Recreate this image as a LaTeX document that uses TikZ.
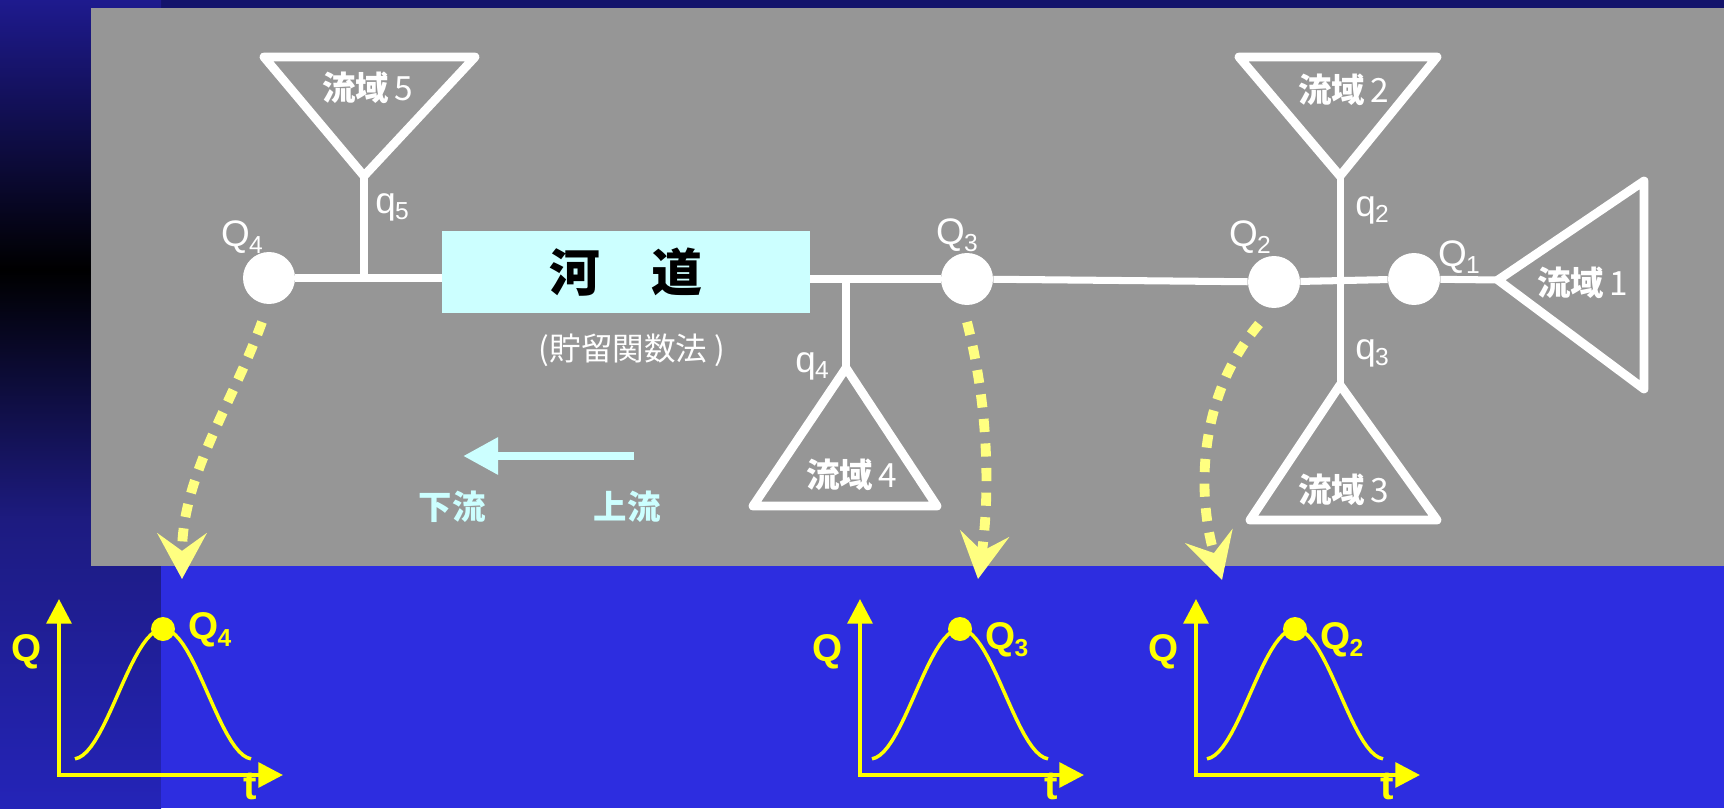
\documentclass[tikz,border=0pt]{standalone}
\usepackage{fontspec}
\setmainfont{Liberation Sans}
\newfontfamily\cjk{Noto Sans CJK JP}
\usetikzlibrary{arrows.meta}
\definecolor{topnavy}{HTML}{13136B}
\definecolor{colblue}{HTML}{1E1A8E}
\definecolor{colmid}{HTML}{1D1B80}
\definecolor{colblueb}{HTML}{2424B8}
\definecolor{panelgray}{HTML}{969696}
\definecolor{lowblue}{HTML}{2D2DE0}
\definecolor{boxcyan}{HTML}{CCFFFF}
\definecolor{paleyel}{HTML}{FFFF80}
\definecolor{chartyel}{HTML}{FFFF00}
\newcommand\subl[2]{#1\kern-0.02em\raisebox{-0.35ex}{\fontsize{14}{14}\selectfont #2}}
\newcommand\basinname[1]{{\bfseries 流域}\,#1}
\newcommand\hydro[5]{%
  \coordinate (#1o) at (#2,775);
  \coordinate (#1y) at (#2,599);
  \coordinate (#1x) at (#2+224,775);
  \draw[chaxis] (#1y) -- (#1o) -- (#1x);
  \draw[chcurve] plot[domain=-88:88, samples=45] ({#2+#3+\x},{759-65*(1+cos(2*\x))});
  \node[chdot] (#1p) at (#2+#3,629) {};
  \node[chlbl] (#1q) at (#2-32,652) {Q};
  \node[chlbl, font=\bfseries\fontsize{23}{23}\selectfont] (#1t) at (#2+191,786) {t};
  \node[chlbl, anchor=west] (#1n) at (#2+#3+25,#5) {\subl{Q}{#4}};
}
\begin{document}
\begin{tikzpicture}[x=0.02cm,y=-0.02cm,
  wline/.style={draw=white, line width=4pt},
  tri/.style={draw=white, line width=5pt, line join=round},
  dot/.style={circle, fill=white, minimum size=1.04cm, inner sep=0pt},
  lbl/.style={text=white, font=\fontsize{21}{21}\selectfont, inner sep=0pt},
  basin/.style={text=white, font=\cjk\fontsize{19}{19}\selectfont, inner sep=0pt},
  riverbox/.style={fill=boxcyan, minimum width=7.36cm, minimum height=1.64cm, inner sep=0pt,
     font=\cjk\bfseries\fontsize{29}{29}\selectfont},
  flowarrow/.style={draw=paleyel, line width=5.6pt, dash pattern=on 7.5pt off 6.5pt,
     -{Stealth[length=26pt, width=28pt, inset=10pt]}},
  dirarrow/.style={draw=boxcyan, line width=5pt, -{Triangle[length=20pt, width=20pt]}},
  dirlbl/.style={text=boxcyan, font=\cjk\bfseries\fontsize{19}{19}\selectfont, inner sep=0pt},
  chaxis/.style={draw=chartyel, line width=2.4pt, {Triangle[length=14pt,width=14pt]}-{Triangle[length=14pt,width=14pt]}},
  chcurve/.style={draw=chartyel, line width=2pt},
  chdot/.style={circle, fill=chartyel, minimum size=0.48cm, inner sep=0pt},
  chlbl/.style={text=chartyel, font=\bfseries\fontsize{22}{22}\selectfont, inner sep=0pt}
]
\useasboundingbox (0,0) rectangle (1724,808);
% background
\fill[topnavy] (0,0) rectangle (1724,808);
\shade[top color=colblue, bottom color=black] (0,0) rectangle (161,270);
\shade[top color=black, bottom color=colmid] (0,270) rectangle (161,520);
\shade[top color=colmid, bottom color=colblueb] (0,520) rectangle (161,808);
\fill[panelgray] (91,8) rectangle (1724,566);
\fill[lowblue] (161,566) rectangle (1724,808);

% junction / triangle coordinates
\coordinate (t5l) at (264,57); \coordinate (t5r) at (475,57); \coordinate (t5a) at (364,176);
\coordinate (t2l) at (1239,57); \coordinate (t2r) at (1437,57); \coordinate (t2a) at (1340,176);
\coordinate (t3a) at (1340,385); \coordinate (t3l) at (1250,520); \coordinate (t3r) at (1437,520);
\coordinate (t4a) at (846,368); \coordinate (t4l) at (753,506); \coordinate (t4r) at (937,506);
\coordinate (t1a) at (1498,280); \coordinate (t1t) at (1644,181); \coordinate (t1b) at (1644,389);
\coordinate (j5) at (364,277);
\coordinate (j4) at (846,278);

% river box and outlets
\node[riverbox] (river) at (626,272) {河\hspace{1em}道};
\node[dot] (Q4) at (269,278) {};
\node[dot] (Q3) at (967,279) {};
\node[dot] (Q2) at (1274,282) {};
\node[dot] (Q1) at (1414,279) {};

% channel lines
\draw[wline] (Q4) -- (Q4 -| river.west);
\draw[wline] (j5) -- (t5a);
\draw[wline] (Q3) -- (Q3 -| river.east);
\draw[wline] (j4) -- (t4a);
\draw[wline] (Q3) -- (Q2);
\draw[wline] (Q2) -- (Q1);
\draw[wline] (Q1) -- (t1a);
\draw[wline] (t2a) -- (t3a);

% basins
\draw[tri] (t5l) -- (t5r) -- (t5a) -- cycle;
\draw[tri] (t2l) -- (t2r) -- (t2a) -- cycle;
\draw[tri] (t3a) -- (t3r) -- (t3l) -- cycle;
\draw[tri] (t4a) -- (t4r) -- (t4l) -- cycle;
\draw[tri] (t1a) -- (t1t) -- (t1b) -- cycle;

\node[basin] (b5) at (368,88) {\basinname{5}};
\node[basin] (b2) at (1344,90) {\basinname{2}};
\node[basin] (b3) at (1344,490) {\basinname{3}};
\node[basin] (b4) at (852,475) {\basinname{4}};
\node[basin] (b1) at (1583,283) {\basinname{1}};

% labels
\node[lbl] (lq5) at (392,207) {\subl{q}{5}};
\node[lbl] (lq2) at (1372,210) {\subl{q}{2}};
\node[lbl] (lq3) at (1372,353) {\subl{q}{3}};
\node[lbl] (lq4) at (812,366) {\subl{q}{4}};
\node[lbl] (lQ4) at (242,237) {\subl{Q}{4}};
\node[lbl] (lQ3) at (957,235) {\subl{Q}{3}};
\node[lbl] (lQ2) at (1250,237) {\subl{Q}{2}};
\node[lbl] (lQ1) at (1459,257) {\subl{Q}{1}};
\node[lbl, font=\cjk\fontsize{18}{18}\selectfont] (method) at (632,350) {(貯留関数法 )};

% direction arrow
\coordinate (up) at (634,456);
\coordinate (down) at (463,456);
\draw[dirarrow] (up) -- (down);
\node[dirlbl] (ldown) at (452,507) {下流};
\node[dirlbl] (lup) at (627,507) {上流};

% hydrographs
\hydro{c4}{59}{104}{4}{630}
\hydro{c3}{860}{100}{3}{640}
\hydro{c2}{1196}{99}{2}{640}

% flow arrows
\draw[flowarrow] (262,322) .. controls (232,405) and (182,475) .. (182,579);
\draw[flowarrow] (967,322) .. controls (992,420) and (988,510) .. (978,579);
\draw[flowarrow] (1259,324) .. controls (1195,400) and (1198,500) .. (1222,580);
\end{tikzpicture}
\end{document}
